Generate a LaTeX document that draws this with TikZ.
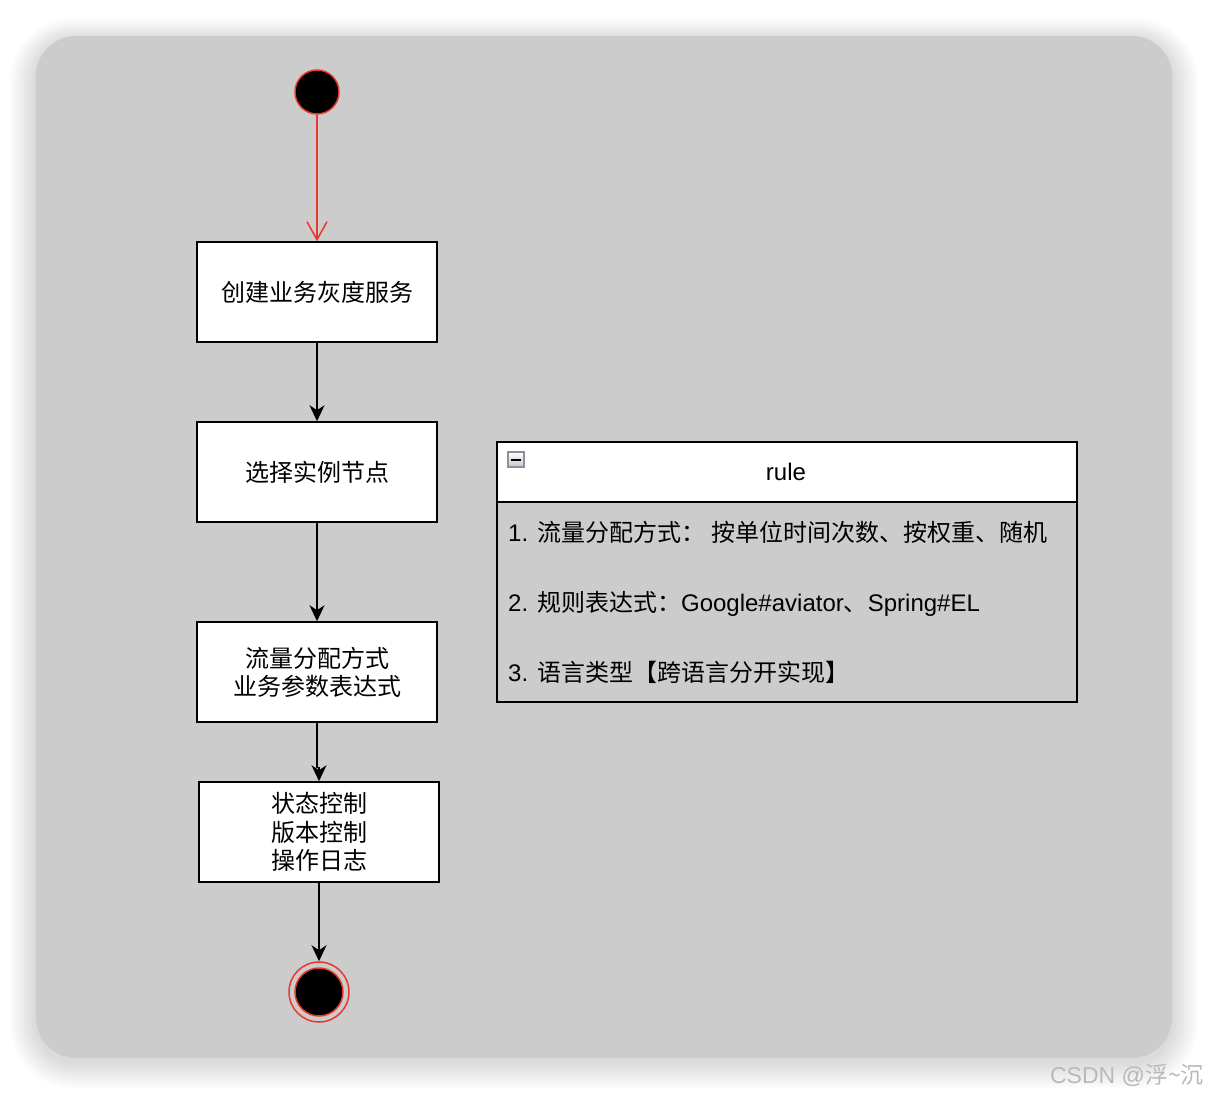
\documentclass[tikz,border=0pt]{standalone}
\usepackage{fontspec}
\setmainfont{Liberation Sans}
\newfontfamily\cjk{Noto Sans CJK SC}
\usetikzlibrary{arrows.meta,calc}
\definecolor{bggray}{HTML}{CCCCCC}
\definecolor{umlred}{HTML}{E8392C}
\definecolor{iconborder}{HTML}{8A909C}
\tikzset{
  actbox/.style={draw=black,fill=white,line width=1.5pt,minimum width=240pt,minimum height=100pt,align=center,inner sep=0pt,font=\cjk\fontsize{24}{28}\selectfont},
  flow/.style={draw=black,line width=1.5pt,-{Stealth[length=16pt,width=15pt,inset=5pt]}},
  bodytext/.style={anchor=west,inner sep=0pt,font=\fontsize{24}{28}\selectfont}
}
\begin{document}
\begin{tikzpicture}[x=1pt,y=-1pt]
\useasboundingbox (0,0) rectangle (1208,1094);
% shadow
\foreach \i in {1,...,12}{
  \fill[black,opacity=0.011,rounded corners=40pt+2*\i pt] (36-2.2*\i,36-1.8*\i+4) rectangle (1172+2.2*\i,1058+2.2*\i+4);
}
\fill[bggray,rounded corners=40pt] (36,36) rectangle (1172,1058);
% start
\node[circle,fill=black,draw=umlred,line width=1.5pt,minimum size=44pt,inner sep=0pt] (start) at (317,92) {};
\node[actbox] (b1) at (317,292) {创建业务灰度服务};
\node[actbox] (b2) at (317,472) {选择实例节点};
\node[actbox] (b3) at (317,672) {流量分配方式\\业务参数表达式};
\node[actbox,font=\cjk\fontsize{24}{28.5}\selectfont] (b4) at (319,832) {状态控制\\版本控制\\操作日志};
% end
\node[circle,draw=umlred,line width=1.5pt,minimum size=60pt,inner sep=0pt] (endo) at (319,992) {};
\node[circle,fill=black,draw=umlred,line width=1.5pt,minimum size=48pt,inner sep=0pt] (endi) at (319,992) {};
% connectors
\draw[umlred,line width=1.5pt,-{Straight Barb[length=18pt,width=20pt,line width=1.5pt]}] (start) -- (b1.north);
\draw[flow] (b1.south) -- (b2.north);
\draw[flow] (b2.south) -- (b3.north);
\draw[flow] (b3.south) |- ($(b4.north)+(0,-14)$) -- (b4.north);
\draw[flow] (b4.south) -- (endo.north);
% rule box
\draw[line width=1.5pt,fill=white] (497,442) rectangle (1077,502);
\draw[line width=1.5pt] (497,502) rectangle (1077,702);
\coordinate (rulehead) at (786,472);
\node[inner sep=0pt,font=\fontsize{24}{28}\selectfont] (rulelabel) at (rulehead) {rule};
\shade[top color=white,bottom color=gray!45,draw=iconborder,line width=1.2pt] (508,452) rectangle (524,467);
\draw[black,line width=2pt] (511,460) -- (521,460);
\node[bodytext] (r1) at (508,532) {1. {\cjk 流量分配方式：\hspace{6pt}按单位时间次数、按权重、随机}};
\node[bodytext] (r2) at (508,604) {2. {\cjk 规则表达式：}Google\#aviator{\cjk 、}Spring\#EL};
\node[bodytext] (r3) at (508,672) {3. {\cjk 语言类型【跨语言分开实现】}};
% watermark
\node[anchor=east,inner sep=0pt,text=gray!55,font=\fontsize{23}{26}\selectfont] (wm) at (1204,1075) {CSDN @{\cjk 浮\textasciitilde 沉}};
\end{tikzpicture}
\end{document}
